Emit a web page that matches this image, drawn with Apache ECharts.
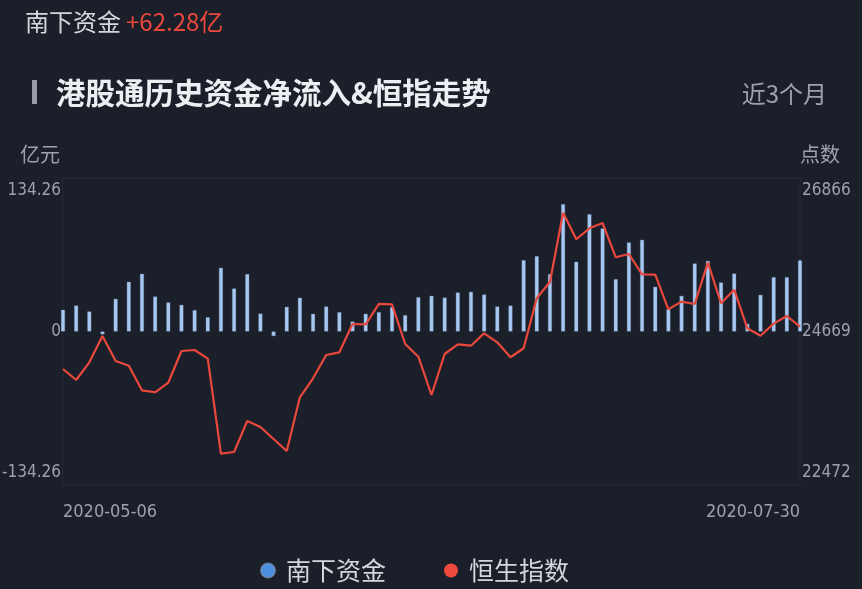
<!DOCTYPE html>
<html>
<head>
<meta charset="utf-8">
<script src="https://cdn.jsdelivr.net/npm/echarts@6/dist/echarts.min.js"></script>
<style>
  html, body { margin: 0; padding: 0; background: #1b1f29; }
  #chart { width: 862px; height: 589px; }
</style>
</head>
<body>
<div id="chart"></div>
<script>
// Trading days shown (Stock Connect southbound)
const dates = [
  '2020-05-06','2020-05-07','2020-05-08','2020-05-11','2020-05-12','2020-05-13','2020-05-14','2020-05-15',
  '2020-05-18','2020-05-19','2020-05-20','2020-05-21','2020-05-22','2020-05-25','2020-05-26','2020-05-27',
  '2020-05-28','2020-05-29',
  '2020-06-01','2020-06-02','2020-06-03','2020-06-04','2020-06-05','2020-06-08','2020-06-09','2020-06-10',
  '2020-06-11','2020-06-12','2020-06-15','2020-06-16','2020-06-17','2020-06-18','2020-06-19','2020-06-22',
  '2020-06-29','2020-06-30',
  '2020-07-02','2020-07-03','2020-07-06','2020-07-07','2020-07-08','2020-07-09','2020-07-10','2020-07-13',
  '2020-07-14','2020-07-15','2020-07-16','2020-07-17','2020-07-20','2020-07-21','2020-07-22','2020-07-23',
  '2020-07-24','2020-07-27','2020-07-28','2020-07-29','2020-07-30'
];

// Southbound net inflow, 亿元
const southFlow = [
  19.0, 22.7, 17.5, -2.5, 28.6, 43.5, 50.5, 30.6, 25.4, 23.3, 18.7, 12.5, 55.7, 37.6, 50.2, 15.7,
  -4.0, 21.6, 29.5, 15.5, 21.9, 16.9, 8.7, 15.5, 16.9, 21.3, 14.3, 30.0, 31.2, 29.7, 34.1, 34.7,
  32.4, 21.9, 22.7, 62.4, 65.9, 50.2, 111.4, 61.0, 102.6, 90.1, 45.8, 77.9, 80.2, 39.1, 19.5, 31.2,
  59.5, 61.8, 42.9, 50.7, 6.7, 32.1, 47.5, 47.5, 62.28
];

// Hang Seng Index close, points
const hsi = [
  24132, 23975, 24228, 24605, 24247, 24180, 23827, 23799, 23936, 24390, 24404, 24280, 22920, 22944,
  23388, 23302, 23130, 22959, 23727, 23999, 24333, 24371, 24776, 24772, 25063, 25058, 24490, 24308,
  23760, 24347, 24486, 24466, 24643, 24514, 24300, 24429, 25144, 25377, 26369, 25989, 26146, 26222,
  25731, 25778, 25488, 25482, 24987, 25096, 25063, 25654, 25073, 25267, 24715, 24609, 24781, 24891,
  24738
];

// Axis ranges and tick values
const flowTicks = [-134.26, 0, 134.26];
const indexTicks = [22472, 24669, 26866];

const seriesNames = ['南下资金', '恒生指数'];
const titleText = '港股通历史资金净流入&恒指走势';
const periodText = '近3个月';
const flowUnit = '亿元';
const indexUnit = '点数';

// Condensed digits for the axis numbers
const numFont = '"DejaVu Sans", "Noto Sans", sans-serif';
const numWeight = 'condensed';
const cjkFont = '"Noto Sans CJK SC", "Noto Sans", sans-serif';
const gray = '#9da1ab';
const red = '#ea473d';

const latest = southFlow[southFlow.length - 1];
const latestText = (latest >= 0 ? '+' : '') + latest.toFixed(2) + '亿';

function edgeLabel(ticks, fmt) {
  return function (v) {
    const s = fmt(v);
    if (Math.abs(v - ticks[ticks.length - 1]) < 1e-6) return '{t|' + s + '}';
    if (Math.abs(v - ticks[0]) < 1e-6) return '{b|' + s + '}';
    return '{m|' + s + '}';
  };
}
const numStyle = { fontFamily: numFont, fontWeight: numWeight, fontSize: 17, color: gray };
const edgeRich = {
  t: Object.assign({ padding: [25, 0, 0, 0] }, numStyle),
  b: Object.assign({ padding: [0, 0, 25, 0] }, numStyle),
  m: Object.assign({}, numStyle)
};

const chart = echarts.init(document.getElementById('chart'), null, { renderer: 'canvas' });

chart.setOption({
  backgroundColor: '#1b1f29',
  animation: false,
  title: [
    {
      text: '{a|南下资金} {b|' + latestText + '}',
      left: 20, top: 5,
      textStyle: {
        rich: {
          a: { fontFamily: cjkFont, fontSize: 24, fontWeight: 'normal', color: '#d4d6da' },
          b: { fontFamily: cjkFont, fontSize: 24, fontWeight: 'normal', color: red }
        }
      }
    },
    {
      text: titleText,
      left: 51, top: 73,
      textStyle: { fontFamily: cjkFont, fontSize: 29.5, fontWeight: 'bold', color: '#eceef2' }
    },
    {
      text: periodText,
      right: 30, top: 77,
      textStyle: { fontFamily: cjkFont, fontSize: 24, fontWeight: 'normal', color: gray }
    }
  ],
  graphic: [
    { type: 'rect', left: 32, top: 80, shape: { width: 5, height: 24 }, style: { fill: '#9a9cab' } }
  ],
  legend: {
    bottom: 1,
    left: 255,
    icon: 'circle',
    itemWidth: 14,
    itemHeight: 14,
    itemGap: 58,
    textStyle: { fontFamily: cjkFont, fontSize: 25, color: '#d4d6da', padding: [0, 0, 0, 6] },
    data: [
      { name: seriesNames[0], itemStyle: { color: '#4a90e2' } },
      { name: seriesNames[1], itemStyle: { color: '#ef4a3e' } }
    ]
  },
  grid: {
    left: 63, right: 62, top: 178, bottom: 104,
    outerBoundsMode: 'none',
    containLabel: false,
    show: true, borderColor: '#262b36', borderWidth: 1, backgroundColor: 'transparent'
  },
  xAxis: {
    type: 'category',
    data: dates,
    boundaryGap: false,
    axisLine: { show: false },
    axisTick: { show: false },
    splitLine: { show: false },
    axisLabel: {
      interval: function (i) { return i === 0 || i === dates.length - 1; },
      alignMinLabel: 'left',
      alignMaxLabel: 'right',
      margin: 18,
      fontFamily: numFont, fontWeight: numWeight, fontSize: 18, color: gray
    }
  },
  yAxis: [
    {
      type: 'value',
      name: flowUnit,
      nameLocation: 'end',
      nameGap: 14,
      nameTextStyle: { fontFamily: cjkFont, fontSize: 20, color: gray, align: 'right', padding: [0, 3, 0, 0] },
      min: flowTicks[0], max: flowTicks[2], interval: flowTicks[2],
      axisLine: { show: false }, axisTick: { show: false }, splitLine: { show: false },
      axisLabel: { margin: 2, formatter: edgeLabel(flowTicks, function (v) { return String(v); }), rich: edgeRich }
    },
    {
      type: 'value',
      name: indexUnit,
      nameLocation: 'end',
      nameGap: 14,
      position: 'right',
      nameTextStyle: { fontFamily: cjkFont, fontSize: 20, color: gray, align: 'left', padding: [0, 0, 0, 0] },
      min: indexTicks[0], max: indexTicks[2], interval: indexTicks[1] - indexTicks[0],
      axisLine: { show: false }, axisTick: { show: false }, splitLine: { show: false },
      axisLabel: { margin: 2, formatter: edgeLabel(indexTicks, function (v) { return String(Math.round(v)); }), rich: edgeRich }
    }
  ],
  series: [
    {
      name: seriesNames[0],
      type: 'bar',
      yAxisIndex: 0,
      data: southFlow,
      barWidth: 4,
      itemStyle: { color: '#a7c9f1', borderColor: 'rgba(120,150,190,0.7)', borderWidth: 0.5 },
      z: 2
    },
    {
      name: seriesNames[1],
      type: 'line',
      yAxisIndex: 1,
      data: hsi,
      showSymbol: false,
      symbol: 'none',
      lineStyle: { color: red, width: 2.2 },
      itemStyle: { color: red },
      z: 3
    }
  ]
});
</script>
</body>
</html>
